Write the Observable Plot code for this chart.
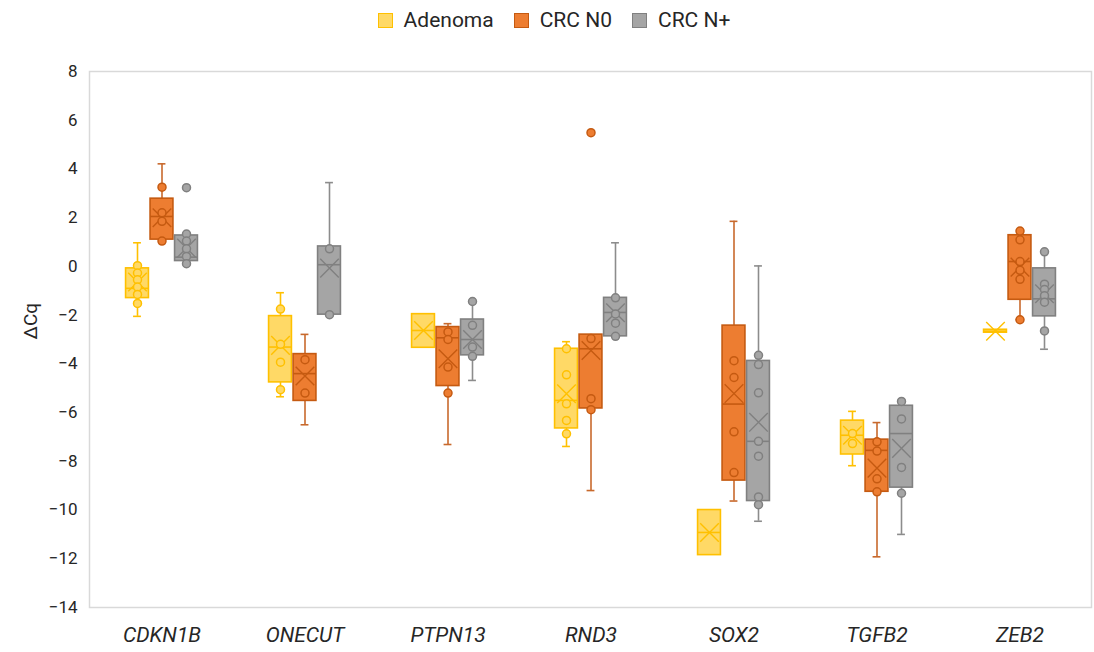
<!DOCTYPE html>
<html>
<head>
<meta charset="utf-8">
<script src="https://cdn.jsdelivr.net/npm/d3@7"></script>
<script src="https://cdn.jsdelivr.net/npm/@observablehq/plot@0.6"></script>
<style>
  html, body { margin: 0; padding: 0; background: #fff; }
  body { width: 1094px; height: 652px; overflow: hidden; font-family: Roboto, "Liberation Sans", sans-serif; color: #262626; }
  #legend { height: 40px; display: flex; justify-content: center; align-items: center; gap: 0; font-size: 21px; padding-left: 14px; box-sizing: border-box; }
  .item { display: flex; align-items: center; margin: 0 10px; }
  .sw { width: 15px; height: 15px; margin-right: 11px; box-sizing: border-box; border: 1.5px solid; }
  #chart svg { display: block; }
</style>
</head>
<body>
<div id="legend"></div>
<div id="chart"></div>
<script>
const genes = ["CDKN1B", "ONECUT", "PTPN13", "RND3", "SOX2", "TGFB2", "ZEB2"];
const seriesNames = ["Adenoma", "CRC N0", "CRC N+"];
const yTicks = [8, 6, 4, 2, 0, -2, -4, -6, -8, -10, -12, -14];

// Adenoma
const adenomaLow    = [-2.05, -5.35, null, -7.39, null, -8.18, null];
const adenomaQ1     = [-1.30, -4.76, -3.34, -6.65, -11.85, -7.72, -2.72];
const adenomaMedian = [-0.90, -3.31, -2.63, -5.50, -10.92, -6.93, -2.66];
const adenomaQ3     = [-0.08, -2.04, -1.96, -3.38, -10.00, -6.33, -2.60];
const adenomaHigh   = [0.97, -1.08, null, -3.09, null, -5.95, null];
const adenomaMean   = [-0.64, -3.24, -2.63, -5.23, -10.92, -6.93, -2.66];
const adenomaPoints = [
  [0.03, -0.27, -0.55, -0.85, -1.15, -1.52],
  [-1.75, -3.2, -3.93, -5.06],
  [],
  [-3.38, -4.45, -5.64, -6.32, -6.87],
  [],
  [-6.86, -7.27],
  []
];

// CRC N0
const n0Low    = [null, -6.50, -7.31, -9.20, -9.63, -11.92, -2.19];
const n0Q1     = [1.10, -5.52, -4.91, -5.83, -8.79, -9.25, -1.37];
const n0Median = [2.05, -4.40, -2.93, -3.38, -5.65, -7.55, 0.20];
const n0Q3     = [2.78, -3.60, -2.49, -2.80, -2.43, -7.11, 1.28];
const n0High   = [4.21, -2.79, -2.35, null, 1.85, -6.41, null];
const n0Mean   = [2.00, -4.50, -3.79, -3.45, -5.22, -8.28, -0.03];
const n0Points = [
  [3.25, 2.2, 1.85, 1.04],
  [-3.83, -5.2],
  [-2.69, -3.0, -4.13, -5.2],
  [5.49, -2.96, -5.43, -5.88],
  [-3.87, -4.56, -6.79, -8.46],
  [-7.2, -7.58, -8.72, -9.25],
  [1.45, 1.09, 0.2, -0.16, -0.53, -2.19]
];

// CRC N+
const npLow    = [null, null, -4.68, null, -10.46, -11.0, -3.40];
const npQ1     = [0.22, -1.98, -3.65, -2.87, -9.63, -9.08, -2.05];
const npMedian = [0.38, 0.07, -3.00, -1.89, -7.18, -6.86, -1.33];
const npQ3     = [1.27, 0.82, -2.18, -1.29, -3.88, -5.72, -0.08];
const npHigh   = [null, 3.44, -1.44, 0.97, 0.02, null, 0.60];
const npMean   = [0.75, -0.07, -3.00, -1.90, -6.40, -7.47, -1.12];
const npPoints = [
  [3.23, 1.33, 1.04, 0.72, 0.41, 0.11],
  [0.72, -1.98],
  [-1.44, -2.42, -3.31, -3.69],
  [-1.29, -1.95, -2.33, -2.87],
  [-3.65, -4.03, -5.19, -7.18, -7.79, -9.46, -9.78],
  [-5.54, -6.26, -8.25, -9.31],
  [0.6, -0.73, -0.95, -1.2, -1.47, -2.65]
];

const styles = [
  {fill: "#FFD966", stroke: "#FFC000", whisker: "#FFC000"},
  {fill: "#ED7D31", stroke: "#C55A11", whisker: "#C8692C"},
  {fill: "#A5A5A5", stroke: "#808080", whisker: "#8C8C8C"}
];

const stats = [
  [adenomaLow, adenomaQ1, adenomaMedian, adenomaQ3, adenomaHigh, adenomaMean, adenomaPoints],
  [n0Low, n0Q1, n0Median, n0Q3, n0High, n0Mean, n0Points],
  [npLow, npQ1, npMedian, npQ3, npHigh, npMean, npPoints]
];

// Legend
const legend = document.getElementById("legend");
seriesNames.forEach((s, i) => {
  const it = document.createElement("div");
  it.className = "item";
  const sw = document.createElement("span");
  sw.className = "sw";
  sw.style.background = styles[i].fill;
  sw.style.borderColor = styles[i].stroke;
  it.appendChild(sw);
  it.appendChild(document.createTextNode(s));
  legend.appendChild(it);
});

const width = 1094, height = 612;
const marginLeft = 89, marginRight = 3, marginTop = 31, marginBottom = 45;
const band = (width - marginLeft - marginRight) / genes.length;
const boxW = 23, capW = 8, step = 24.5;
const boxInset = (band - boxW) / 2;
const capInset = (band - capW) / 2;

const marks = [Plot.frame({stroke: "#D9D9D9", strokeWidth: 1.5})];

stats.forEach(([low, q1, med, q3, high, mean, pts], i) => {
  const st = styles[i];
  const dx = (i - 1) * step;
  const rows = genes.map((g, j) => ({gene: g, low: low[j], q1: q1[j], median: med[j], q3: q3[j], high: high[j], mean: mean[j]}));
  const points = genes.flatMap((g, j) => pts[j].map(v => ({gene: g, value: v})));
  const hiRows = rows.filter(d => d.high != null);
  const loRows = rows.filter(d => d.low != null);
  marks.push(
    Plot.ruleX(hiRows, {x: "gene", y1: "q3", y2: "high", stroke: st.whisker, strokeWidth: 1.6, dx}),
    Plot.ruleX(loRows, {x: "gene", y1: "q1", y2: "low", stroke: st.whisker, strokeWidth: 1.6, dx}),
    Plot.tickY(hiRows, {x: "gene", y: "high", stroke: st.whisker, strokeWidth: 1.6, insetLeft: capInset, insetRight: capInset, dx}),
    Plot.tickY(loRows, {x: "gene", y: "low", stroke: st.whisker, strokeWidth: 1.6, insetLeft: capInset, insetRight: capInset, dx}),
    Plot.barY(rows, {x: "gene", y1: "q1", y2: "q3", fill: st.fill, stroke: st.stroke, strokeWidth: 1.6, insetLeft: boxInset, insetRight: boxInset, dx}),
    Plot.tickY(rows, {x: "gene", y: "median", stroke: st.stroke, strokeWidth: 1.6, insetLeft: boxInset, insetRight: boxInset, dx}),
    Plot.dot(rows, {x: "gene", y: "mean", symbol: "times", r: 8.5, stroke: st.stroke, strokeWidth: 1.4, dx}),
    Plot.dot(points, {x: "gene", y: "value", r: 4, fill: st.fill, stroke: st.stroke, strokeWidth: 1.5, dx})
  );
});

marks.push(
  Plot.axisY({ticks: yTicks, tickSize: 0, tickPadding: 12, fontSize: 17, label: null}),
  Plot.axisX({tickSize: 0, tickPadding: 20, fontSize: 21, fontStyle: "italic", label: null}),
  Plot.text(["ΔCq"], {frameAnchor: "left", dx: -59, rotate: -90, fontSize: 19, fill: "#262626"})
);

const chart = Plot.plot({
  width, height, marginLeft, marginRight, marginTop, marginBottom,
  style: {fontFamily: "Roboto, 'Liberation Sans', sans-serif", color: "#262626", background: "#fff"},
  x: {domain: genes, padding: 0, label: null},
  y: {domain: [-14, 8], label: null},
  marks
});
document.getElementById("chart").appendChild(chart);
</script>
</body>
</html>
